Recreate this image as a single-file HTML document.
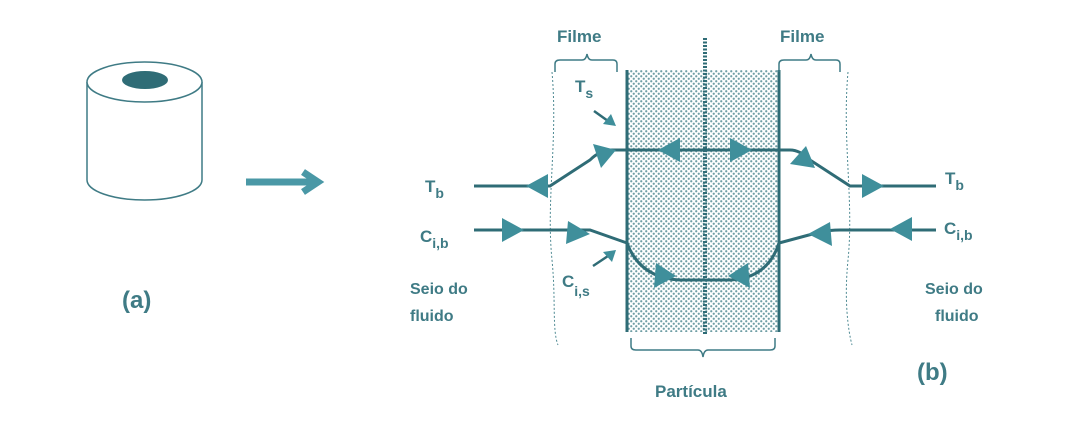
<!DOCTYPE html>
<html><head><meta charset="utf-8"><style>
body{margin:0;background:#fff;}
svg text{font-family:"Liberation Sans",sans-serif;fill:#3f7b85;font-weight:bold;}
</style></head><body>
<svg width="1080" height="422" viewBox="0 0 1080 422" xmlns="http://www.w3.org/2000/svg">
<defs>
<pattern id="dots" width="5" height="5" patternUnits="userSpaceOnUse">
<rect width="5" height="5" fill="#fff"/>
<circle cx="1.25" cy="1.25" r="1.1" fill="#6f9ea5"/>
<circle cx="3.75" cy="3.75" r="1.1" fill="#6f9ea5"/>
</pattern>
</defs>
<!-- cylinder -->
<g stroke="#3f7b85" stroke-width="1.5" fill="#fff">
<path d="M87 82 V180 A57.5 20 0 0 0 202 180 V82"/>
<ellipse cx="144.5" cy="82" rx="57.5" ry="20"/>
</g>
<ellipse cx="145" cy="80" rx="23" ry="9" fill="#2f6c76"/>
<path d="M246 182 H312" stroke="#4a98a6" stroke-width="7"/>
<path d="M303 172 L318 182 L303 192" stroke="#4a98a6" stroke-width="7" fill="none"/>
<text x="122" y="308" font-size="24">(a)</text>

<!-- particle -->
<rect x="627" y="70" width="152" height="262" fill="url(#dots)"/>
<path d="M627 70 V332 M779 70 V332" stroke="#2f6c76" stroke-width="3"/>
<path d="M705 38 V335" stroke="#2f6c76" stroke-width="4" stroke-dasharray="2 1.5"/>
<!-- film dashed boundaries -->
<path d="M552 72 C558 140 546 200 552 260 C556 300 552 330 558 345" stroke="#4f8a93" stroke-width="1" stroke-dasharray="2 2" fill="none"/>
<path d="M848 72 C842 140 854 200 848 260 C844 300 848 330 852 345" stroke="#4f8a93" stroke-width="1" stroke-dasharray="2 2" fill="none"/>
<!-- braces -->
<g stroke="#3f7b85" stroke-width="1.5" fill="none">
<path d="M555 72 V64 Q555 60 560 60 H582 Q586 60 587 54 Q588 60 592 60 H613 Q617 60 617 64 V72"/>
<path d="M779 72 V64 Q779 60 784 60 H806 Q810 60 811 54 Q812 60 816 60 H836 Q840 60 840 64 V72"/>
<path d="M631 338 V346 Q631 350 636 350 H698 Q702 350 703 357 Q704 350 708 350 H770 Q775 350 775 346 V338"/>
</g>
<text x="557" y="42" font-size="17">Filme</text>
<text x="780" y="42" font-size="17">Filme</text>
<text x="655" y="397" font-size="17">Partícula</text>
<text x="917" y="380" font-size="24">(b)</text>

<g stroke="#2f6c76" stroke-width="3" fill="none">
<path d="M474 186 H550 L590 160 Q600 150 612 150 H790 Q800 150 810 160 L850 186 H936"/>
<path d="M474 230 H590 L627 243 Q640 278 680 280 H730 Q768 278 779 243 L820 232 Q830 230 840 230 H936"/>
</g>
<g fill="#3f8f9b">
<polygon points="526,186 548,174 548,198"/>
<polygon points="616,150 593,144 601,168"/>
<polygon points="658,150 680,138 680,162"/>
<polygon points="752,150 730,138 730,162"/>
<polygon points="815,168 806,146 790,164"/>
<polygon points="884,186 862,174 862,198"/>
<polygon points="524,230 502,218 502,242"/>
<polygon points="590,234 568,221 566,244"/>
<polygon points="676,276 656,263 654,288"/>
<polygon points="728,276 748,263 750,288"/>
<polygon points="808,234 830,222 832,246"/>
<polygon points="890,229 912,217 912,241"/>
</g>
<g stroke="#2f6c76" stroke-width="2.5">
<path d="M594 111 L608 121"/>
<path d="M593 266 L608 256"/>
</g>
<polygon points="616,126 603,124 611,114" fill="#3f8f9b"/>
<polygon points="616,250 612,262 603,252" fill="#3f8f9b"/>

<text x="575" y="92" font-size="17">T<tspan font-size="14" dy="6">s</tspan></text>
<text x="562" y="287" font-size="17">C<tspan font-size="14" dy="9">i,s</tspan></text>
<text x="425" y="192" font-size="17">T<tspan font-size="14" dy="6">b</tspan></text>
<text x="420" y="242" font-size="17">C<tspan font-size="14" dy="6">i,b</tspan></text>
<text x="945" y="184" font-size="17">T<tspan font-size="14" dy="6">b</tspan></text>
<text x="944" y="234" font-size="17">C<tspan font-size="14" dy="6">i,b</tspan></text>
<text x="410" y="294" font-size="16">Seio do</text>
<text x="410" y="321" font-size="16">fluido</text>
<text x="925" y="294" font-size="16">Seio do</text>
<text x="935" y="321" font-size="16">fluido</text>
</svg>
</body></html>
